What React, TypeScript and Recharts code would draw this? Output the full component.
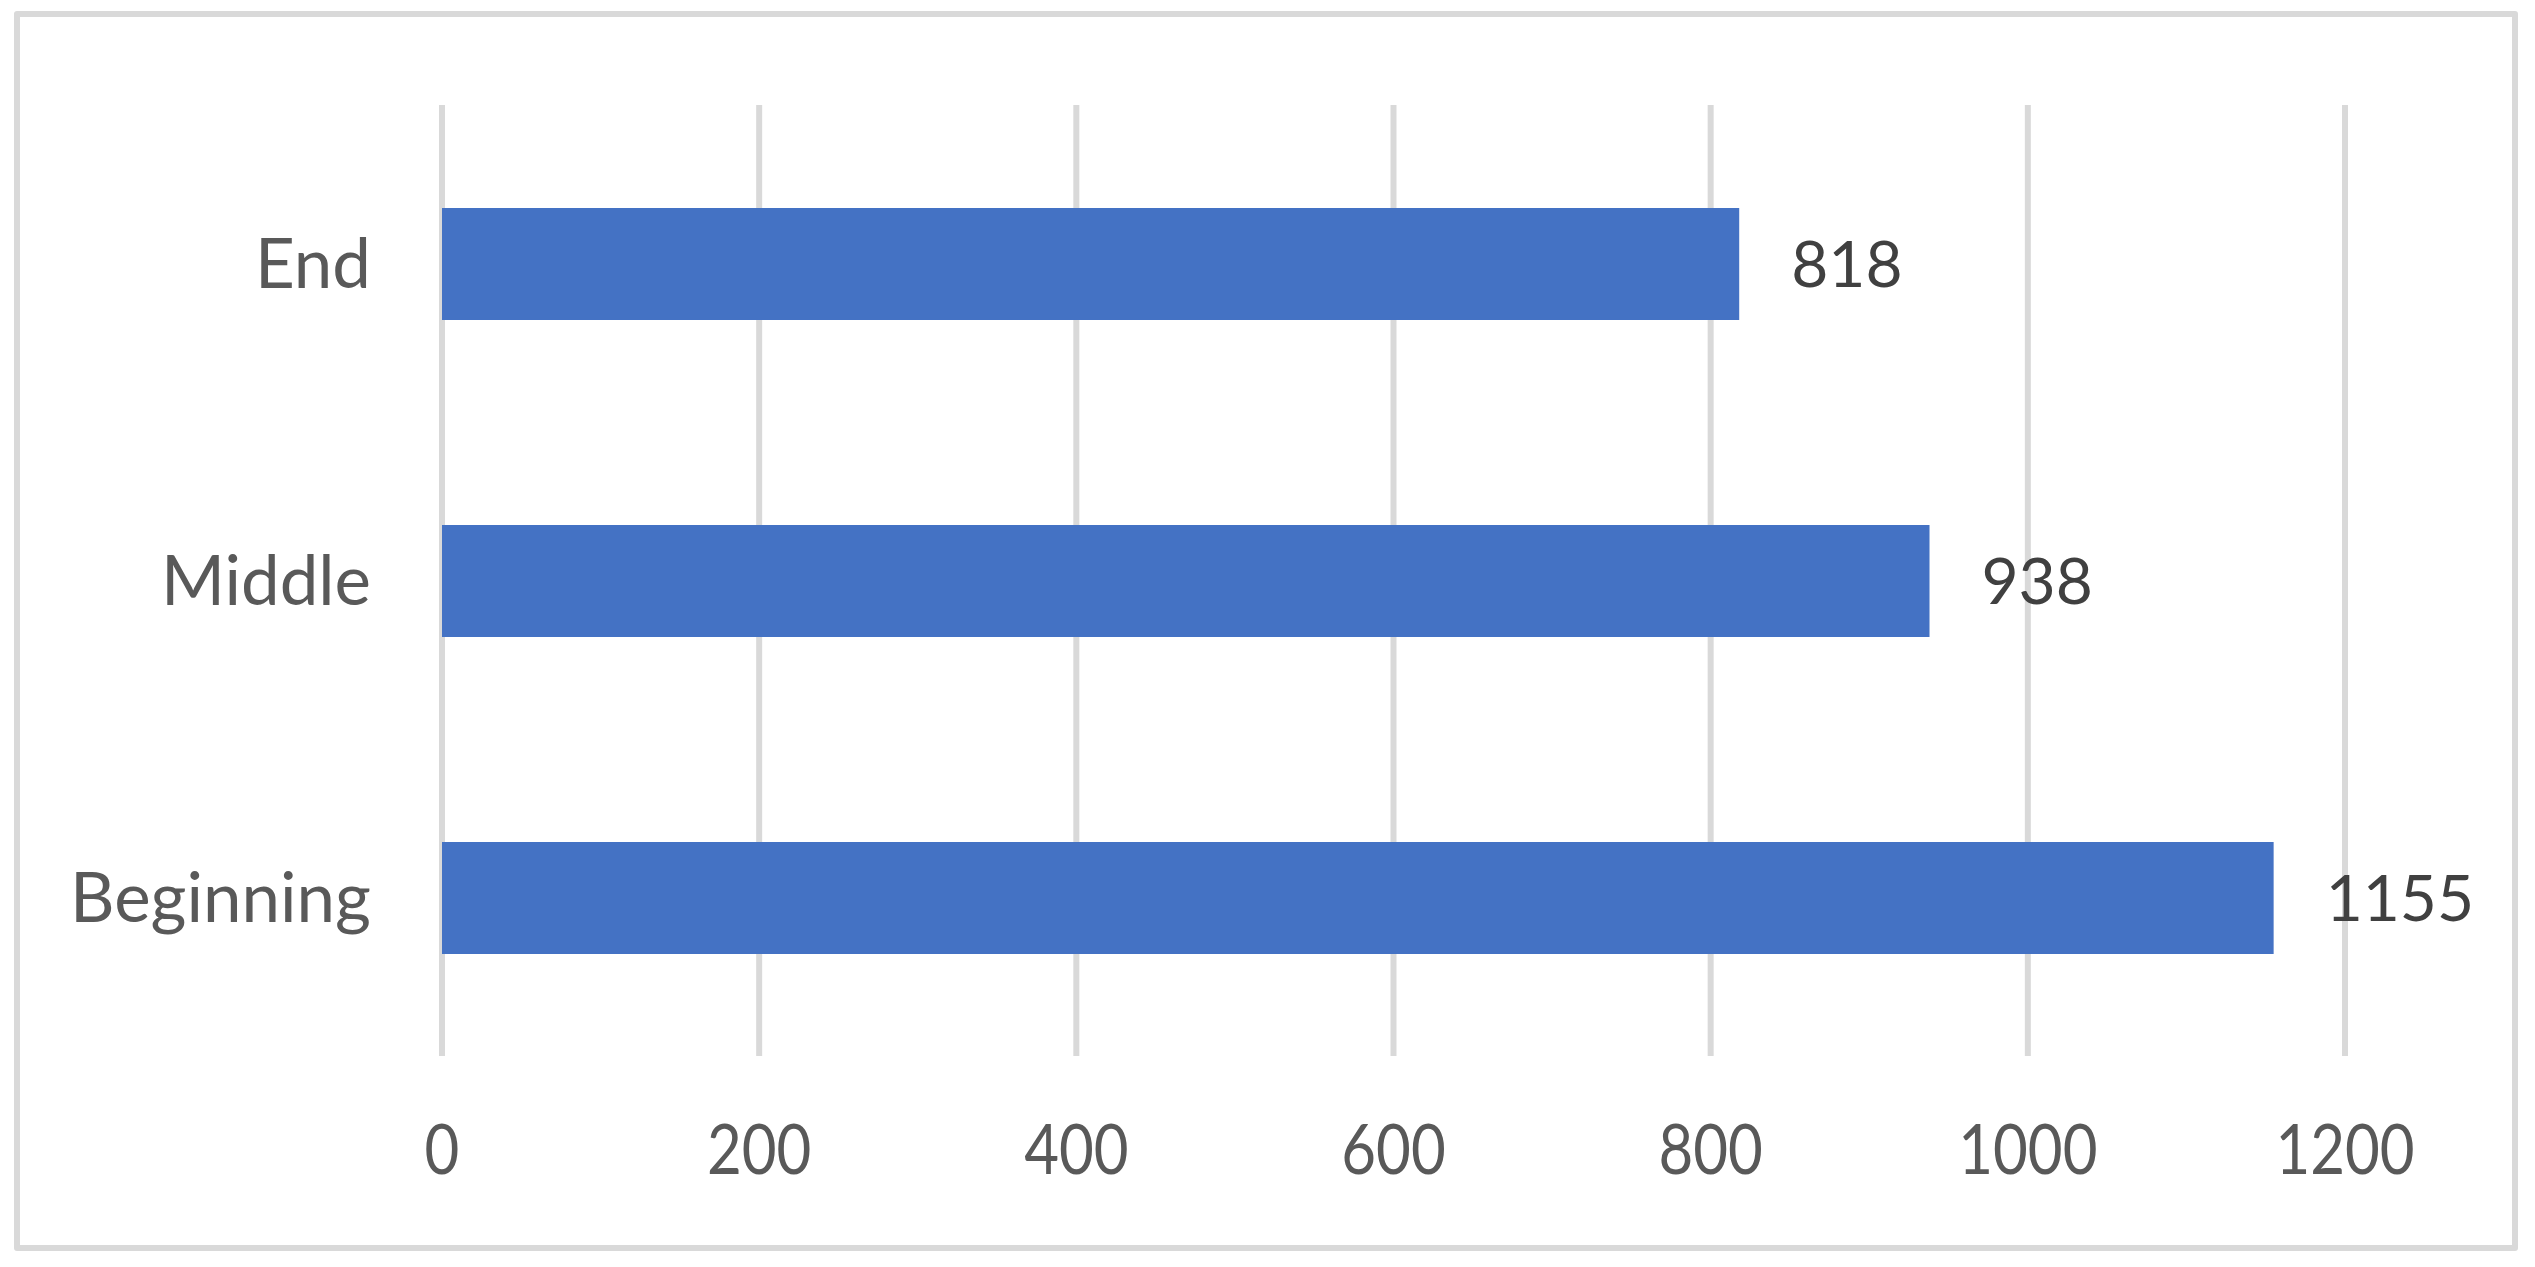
import React from "react";
import { BarChart, Bar, XAxis, YAxis, CartesianGrid, LabelList } from "recharts";

const categories = ["End", "Middle", "Beginning"];
const values = [818, 938, 1155];
const xTicks = [0, 200, 400, 600, 800, 1000, 1200];

const data = categories.map((c, i) => ({ name: c, value: values[i] }));

const FONT = "Lato, 'Noto Sans', sans-serif";

const CatTick = (props: any) => {
  const { x, y, payload } = props;
  return (
    <text x={x} y={y} dy="0.355em" textAnchor="end" fill="#595959" fontFamily={FONT} fontSize={69}>
      {payload.value}
    </text>
  );
};

const NumTick = (props: any) => {
  const { x, y, payload } = props;
  return (
    <g transform={`translate(${x},${y}) scale(1,1.17)`}>
      <text x={0} y={0} dy="0.355em" textAnchor="middle" fill="#595959" fontFamily={FONT} fontSize={60}>
        {payload.value}
      </text>
    </g>
  );
};

export default function App() {
  return (
    <div style={{ position: "absolute", left: 0, top: 0, width: 2535, height: 1267, background: "#fff" }}>
      <div
        style={{
          position: "absolute",
          left: 14,
          top: 11,
          width: 2504,
          height: 1240,
          boxSizing: "border-box",
          border: "6px solid #d9d9d9",
          borderRadius: 3,
        }}
      />
      <div style={{ position: "absolute", left: 0, top: 0 }}>
        <BarChart
          width={2535}
          height={1267}
          data={data}
          layout="vertical"
          margin={{ top: 105, right: 190, bottom: 111, left: 0 }}
          barCategoryGap={0}
        >
          <CartesianGrid vertical={true} horizontal={false} stroke="#d9d9d9" strokeWidth={6} />
          <XAxis
            type="number"
            domain={[0, 1200]}
            ticks={xTicks}
            axisLine={false}
            tickLine={false}
            tickSize={0}
            tickMargin={93}
            height={100}
            tick={<NumTick />}
            interval={0}
          />
          <YAxis
            type="category"
            dataKey="name"
            width={442}
            axisLine={false}
            tickLine={false}
            tickSize={0}
            tickMargin={71}
            tick={<CatTick />}
            interval={0}
          />
          <Bar dataKey="value" fill="#4472c4" barSize={112} isAnimationActive={false}>
            <LabelList
              dataKey="value"
              position="right"
              offset={52}
              fill="#404040"
              fontFamily={FONT}
              fontSize={64}
            />
          </Bar>
        </BarChart>
      </div>
    </div>
  );
}
